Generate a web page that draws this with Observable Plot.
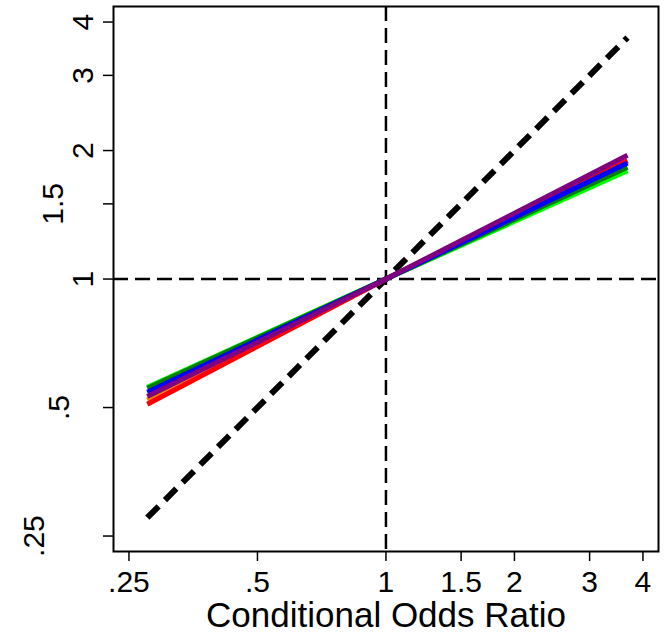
<!DOCTYPE html>
<html>
<head>
<meta charset="utf-8">
<script src="https://cdn.jsdelivr.net/npm/d3@7"></script>
<script src="https://cdn.jsdelivr.net/npm/@observablehq/plot@0.6"></script>
<style>
  html, body { margin: 0; padding: 0; background: #fff; }
  svg { display: block; }
</style>
</head>
<body>
<div id="chart"></div>
<script>
// ---- data ----
const xValues = [0.276, 1, 3.68];
const series = ["S1", "S2", "S3", "S4", "S5", "S6"];
const s1 = [0.558, 1, 1.793]; // lime
const s2 = [0.521, 1, 1.890]; // orange
const s3 = [0.509, 1, 1.892]; // red
const s4 = [0.555, 1, 1.827]; // green
const s5 = [0.543, 1, 1.871]; // blue
const s6 = [0.531, 1, 1.949]; // purple
const identityY = [0.276, 1, 3.68];
const tickValues = [0.25, 0.5, 1, 1.5, 2, 3, 4];
const tickLabels = [".25", ".5", "1", "1.5", "2", "3", "4"];
const xTitle = "Conditional Odds Ratio";

// ---- styling ----
const colors = {S1: "#00ff00", S2: "#ff8000", S3: "#ff0000", S4: "#008000", S5: "#0000ff", S6: "#800080"};
const yLabelShift = {".25": -70, ".5": -45, "1": -21, "1.5": -51, "2": -21, "3": -21, "4": -21};

const allSeries = [s1, s2, s3, s4, s5, s6];
const rows = [];
series.forEach((name, i) => {
  xValues.forEach((x, j) => rows.push({series: name, x, y: allSeries[i][j]}));
});
const diag = xValues.map((x, j) => ({x, y: identityY[j]}));
const ticks = tickValues.map((v, i) => ({v, label: tickLabels[i]}));
const fmt = new Map(tickValues.map((v, i) => [v, tickLabels[i]]));

const font = "Liberation Sans, Arial, Helvetica, sans-serif";

const chart = Plot.plot({
  width: 666,
  height: 634,
  marginLeft: 113,
  marginRight: 8,
  marginTop: 6,
  marginBottom: 83,
  style: {fontFamily: font, background: "#fff", color: "#000"},
  x: {type: "log", domain: [0.23, 4.35]},
  y: {type: "log", domain: [0.23, 4.35]},
  marks: [
    Plot.ruleX([1], {stroke: "#000", strokeWidth: 2.5, strokeDasharray: "15,7"}),
    Plot.ruleY([1], {stroke: "#000", strokeWidth: 2.5, strokeDasharray: "15,7"}),
    Plot.line(diag, {x: "x", y: "y", stroke: "#000", strokeWidth: 6, strokeDasharray: "16,9", strokeLinecap: "butt"}),
    ...series.map(name => Plot.line(rows.filter(d => d.series === name), {
      x: "x", y: "y", stroke: colors[name], strokeWidth: 5, strokeLinecap: "butt"
    })),
    Plot.frame({stroke: "#000", strokeWidth: 2}),
    Plot.axisX({
      ticks: tickValues, tickFormat: d => fmt.get(d), tickSize: 10, tickPadding: 9,
      fontSize: 30, label: null, stroke: "#000", strokeWidth: 1.5
    }),
    Plot.axisY({
      ticks: tickValues, tickFormat: null, text: null, tickSize: 10, label: null,
      stroke: "#000", strokeWidth: 1.5
    }),
    Plot.text(ticks, {
      y: "v", text: "label", frameAnchor: "left", rotate: -90,
      lineAnchor: "bottom", textAnchor: "middle", fontSize: 30, fill: "#000"
    }),
    Plot.text([xTitle], {
      text: d => d, frameAnchor: "bottom", dy: 75, lineAnchor: "bottom",
      fontSize: 35, fill: "#000"
    })
  ]
});

document.getElementById("chart").appendChild(chart);

// shift the rotated y labels to their individual offsets
const svg = d3.select(chart);
svg.selectAll("g[aria-label='text'] text").each(function() {
  const t = this.textContent;
  const tr = this.getAttribute("transform");
  if (t in yLabelShift && tr && tr.includes("rotate")) {
    this.setAttribute("transform", `translate(${yLabelShift[t]},0) ` + tr);
  }
});
</script>
</body>
</html>
